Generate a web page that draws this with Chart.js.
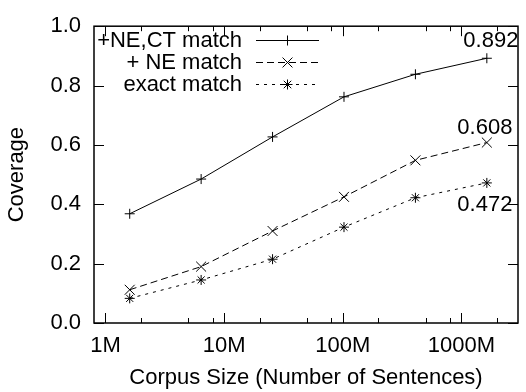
<!DOCTYPE html>
<html>
<head>
<meta charset="utf-8">
<script src="https://cdn.jsdelivr.net/npm/chart.js@4/dist/chart.umd.min.js"></script>
<style>
html,body{margin:0;padding:0;background:#fff;}
#wrap{width:526px;height:392px;}
</style>
</head>
<body>
<div id="wrap"><canvas id="c" width="526" height="392"></canvas></div>
<script>
// ---- data ----
const corpusSizes = [1.6, 6.4, 25.6, 102.4, 409.6, 1638.4]; // millions of sentences
const neCtMatch = [0.368, 0.485, 0.627, 0.762, 0.838, 0.892];
const neMatch = [0.112, 0.190, 0.310, 0.425, 0.548, 0.608];
const exactMatch = [0.083, 0.145, 0.215, 0.323, 0.422, 0.472];
const seriesNames = ['+NE,CT match', '+ NE match', 'exact match'];
const xTickValues = [1, 10, 100, 1000];
const xTickLabels = ['1M', '10M', '100M', '1000M'];
const xMinorTicks = [2, 5, 8, 20, 50, 80, 200, 500, 800, 2000];
const yTickValues = [0, 0.2, 0.4, 0.6, 0.8, 1.0];
const yTickLabels = ['0.0', '0.2', '0.4', '0.6', '0.8', '1.0'];
const xTitle = 'Corpus Size (Number of Sentences)';
const yTitle = 'Coverage';

const FONT = 'Liberation Sans, Arial, Helvetica, sans-serif';
const FS = 22;

function pts(ys){ return corpusSizes.map((x,i)=>({x:x, y:ys[i]})); }

const styles = [
  {dash: [], point: 'cross', r: 5},
  {dash: [7,4], point: 'crossRot', r: 7},
  {dash: [3,5], point: 'star', r: 5}
];
const allSeries = [neCtMatch, neMatch, exactMatch];

function drawMarker(ctx, style, x, y, r){
  ctx.beginPath();
  if (style === 'cross' || style === 'star'){
    ctx.moveTo(x - r, y); ctx.lineTo(x + r, y);
    ctx.moveTo(x, y - r); ctx.lineTo(x, y + r);
  }
  if (style === 'crossRot' || style === 'star'){
    const d = style === 'star' ? r*0.75 : r*Math.SQRT1_2;
    ctx.moveTo(x - d, y - d); ctx.lineTo(x + d, y + d);
    ctx.moveTo(x - d, y + d); ctx.lineTo(x + d, y - d);
  }
  ctx.stroke();
}

const framePlugin = {
  id: 'frame',
  afterDatasetsDraw(chart){
    const ctx = chart.ctx, a = chart.chartArea;
    const xs = chart.scales.x, ys = chart.scales.y;
    ctx.save();
    ctx.strokeStyle = '#000';
    ctx.lineWidth = 1;
    ctx.setLineDash([]);
    // ticks inside
    ctx.beginPath();
    xTickValues.forEach(v=>{
      const px = Math.round(xs.getPixelForValue(v)) + 0.5;
      ctx.moveTo(px, a.bottom); ctx.lineTo(px, a.bottom - 10);
      ctx.moveTo(px, a.top); ctx.lineTo(px, a.top + 10);
    });
    xMinorTicks.forEach(v=>{
      const px = Math.round(xs.getPixelForValue(v)) + 0.5;
      ctx.moveTo(px, a.bottom); ctx.lineTo(px, a.bottom - 5);
      ctx.moveTo(px, a.top); ctx.lineTo(px, a.top + 5);
    });
    yTickValues.forEach(v=>{
      const py = Math.round(ys.getPixelForValue(v)) + 0.5;
      ctx.moveTo(a.left, py); ctx.lineTo(a.left + 10, py);
      ctx.moveTo(a.right, py); ctx.lineTo(a.right - 10, py);
    });
    ctx.stroke();
    // border
    ctx.lineWidth = 1.5;
    ctx.strokeRect(a.left, a.top, a.right - a.left, a.bottom - a.top);

    // legend
    ctx.font = FS + 'px ' + FONT;
    ctx.fillStyle = '#000';
    ctx.textAlign = 'right';
    ctx.textBaseline = 'middle';
    const rows = [40, 62, 84];
    ctx.lineWidth = 1;
    seriesNames.forEach((name, i)=>{
      const y = rows[i];
      ctx.fillText(name, 242, y + 1);
      ctx.setLineDash(styles[i].dash);
      ctx.beginPath(); ctx.moveTo(256, y + 0.5); ctx.lineTo(319, y + 0.5); ctx.stroke();
      ctx.setLineDash([]);
      drawMarker(ctx, styles[i].point, 287.5, y + 0.5, styles[i].r);
    });

    // end value labels
    const last = corpusSizes.length - 1;
    const offs = [[4, -17], [-2, -15], [-2, 22]];
    ctx.textAlign = 'center';
    allSeries.forEach((s, i)=>{
      const px = xs.getPixelForValue(corpusSizes[last]);
      const py = ys.getPixelForValue(s[last]);
      ctx.fillText(s[last].toFixed(3), px + offs[i][0], py + offs[i][1]);
    });
    ctx.restore();
  }
};

const datasets = allSeries.map((s, i)=>({
  label: seriesNames[i],
  data: pts(s),
  showLine: true,
  borderColor: '#000',
  backgroundColor: '#000',
  borderWidth: 1,
  borderDash: styles[i].dash,
  pointStyle: styles[i].point,
  pointRadius: styles[i].r,
  pointBorderWidth: 1,
  pointBorderColor: '#000',
  tension: 0
}));

new Chart(document.getElementById('c'), {
  type: 'scatter',
  data: { datasets },
  options: {
    responsive: false,
    animation: false,
    layout: { padding: { left: 0, right: 3, top: 20, bottom: 0 } },
    plugins: { legend: { display: false }, tooltip: { enabled: false } },
    scales: {
      x: {
        type: 'logarithmic',
        min: 0.8, max: 3000,
        grid: { display: false, drawTicks: false },
        border: { display: false },
        afterBuildTicks(scale){ scale.ticks = xTickValues.map(v=>({value: v})); },
        afterFit(scale){ scale.height = 69; },
        ticks: {
          autoSkip: false, maxRotation: 0, minRotation: 0,
          padding: 10, color: '#000',
          font: { family: FONT, size: FS },
          callback(v){ const k = xTickValues.indexOf(v); return k >= 0 ? xTickLabels[k] : ''; }
        },
        title: { display: true, text: xTitle, color: '#000', font: { family: FONT, size: FS }, padding: { top: 0, bottom: 1 } }
      },
      y: {
        min: 0, max: 1,
        grid: { display: false, drawTicks: false },
        border: { display: false },
        afterBuildTicks(scale){ scale.ticks = yTickValues.map(v=>({value: v})); },
        afterFit(scale){ scale.width = 94; },
        ticks: {
          autoSkip: false, padding: 13, color: '#000',
          font: { family: FONT, size: FS },
          callback(v){ const k = yTickValues.findIndex(t=>Math.abs(t - v) < 1e-9); return k >= 0 ? yTickLabels[k] : ''; }
        },
        title: { display: true, text: yTitle, color: '#000', font: { family: FONT, size: FS }, padding: { top: 4, bottom: 0 } }
      }
    }
  },
  plugins: [framePlugin]
});
</script>
</body>
</html>
